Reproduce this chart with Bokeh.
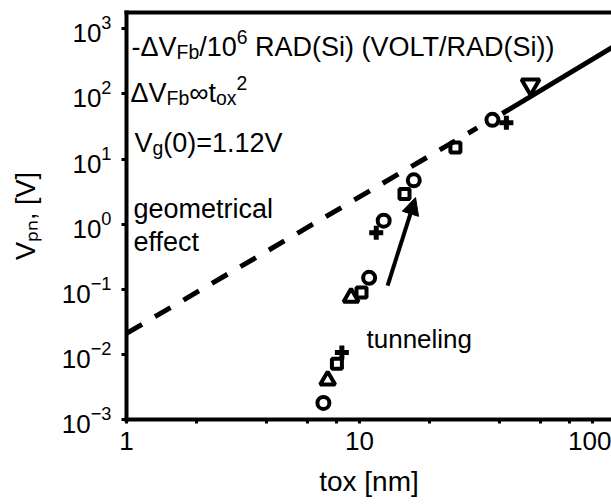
import math
from bokeh.plotting import figure
from bokeh.models import (Range1d, LogAxis, FixedTicker, PrintfTickFormatter,
                          Label, Arrow, NormalHead)
from bokeh.embed import file_html
from bokeh.resources import INLINE

# ---------------- data ----------------
circle_x = [7.0, 11.0, 12.7, 17.1, 37.2]
circle_y = [0.0018, 0.15, 1.13, 4.7, 40.0]
triangle_x = [7.3, 9.2]
triangle_y = [0.0040, 0.075]
square_x = [8.0, 10.2, 15.6, 25.8]
square_y = [0.0072, 0.089, 2.9, 15.0]
cross_x = [8.4, 11.8, 42.7]
cross_y = [0.0107, 0.74, 36.0]
invtri_x = [54.2]
invtri_y = [139.0]

geo_x = [1.0, 32.0]        # dashed "geometrical effect" line
geo_y = [0.021, 30.0]
fit_x = [41.0, 125.0]      # solid t_ox^2 line
fit_y = [50.0, 550.0]
arrow_x = [13.2, 17.4]     # "tunneling" arrow tail -> tip
arrow_y = [0.114, 2.56]

x_ticks = [1, 10, 100]
x_minor_ticks = [2, 4, 6, 8, 20, 40, 60, 80]
y_ticks = [1e-3, 1e-2, 1e-1, 1, 10, 100, 1000]

FONT = "Liberation Sans"

# Arial / Liberation Sans advance widths (1/1000 em)
AW = {' ': 278, '(': 333, ')': 333, '-': 333, '.': 278, '/': 278, ',': 278,
      '=': 584, '[': 278, ']': 278, 'A': 667, 'D': 722, 'F': 611, 'L': 556,
      'O': 778, 'R': 722, 'S': 667, 'T': 611, 'V': 667, 'a': 556, 'b': 556,
      'c': 500, 'e': 556, 'f': 278, 'g': 556, 'i': 222, 'l': 222, 'm': 833,
      'n': 556, 'o': 556, 'p': 556, 'r': 333, 't': 278, 'u': 556, 'x': 500,
      '\u0394': 668, '\u221e': 713}


def tw(s, size):
    return sum(AW.get(c, 556) for c in s) * size / 1000.0


W, H = 611, 504
LEFT, TOP, BOTTOM = 126, 12, 85
frame_w = W - LEFT
x_end = 10 ** (frame_w / 233.0)

p = figure(width=W, height=H, x_axis_type="log", y_axis_type="log",
           x_range=Range1d(1.0, x_end), y_range=Range1d(1e-3, 10 ** 3.25),
           output_backend="svg", toolbar_location=None,
           min_border_left=LEFT, min_border_right=0, min_border_top=TOP,
           min_border_bottom=BOTTOM)
p.outline_line_color = None
p.xgrid.grid_line_color = None
p.ygrid.grid_line_color = None
p.background_fill_color = "white"
p.border_fill_color = "white"

# x axis
xa = p.xaxis[0]
xa.ticker = FixedTicker(ticks=x_ticks, minor_ticks=x_minor_ticks)
xa.formatter = PrintfTickFormatter(format="%d")
xa.axis_line_width = 4
xa.axis_line_cap = "square"
xa.major_tick_out = 4
xa.major_tick_in = 0
xa.minor_tick_out = 4
xa.minor_tick_in = 0
xa.major_tick_line_width = 3
xa.minor_tick_line_width = 3
xa.major_label_text_font = FONT
xa.major_label_text_font_size = "26px"
xa.major_label_text_color = "black"
xa.major_label_standoff = 8
xa.axis_label = "tox [nm]"
xa.axis_label_text_font = FONT
xa.axis_label_text_font_size = "28px"
xa.axis_label_text_font_style = "normal"
xa.axis_label_text_color = "black"
xa.axis_label_standoff = 13

# y axis
ya = p.yaxis[0]
ya.ticker = FixedTicker(ticks=y_ticks)
ya.axis_line_width = 4
ya.axis_line_cap = "square"
ya.major_tick_out = 5
ya.major_tick_in = 0
ya.major_tick_line_width = 3
ya.minor_tick_line_color = None
ya.major_label_text_font = FONT
ya.major_label_text_font_size = "26px"
ya.major_label_text_color = "black"
ya.major_label_standoff = 10
ya.axis_label = "V\u209a\u2099, [V]"
ya.axis_label_text_font = FONT
ya.axis_label_text_font_size = "27px"
ya.axis_label_text_font_style = "normal"
ya.axis_label_text_color = "black"
ya.axis_label_standoff = 18

# top frame line
top = LogAxis(ticker=FixedTicker(ticks=[]), axis_line_width=4,
              axis_line_cap="square", major_tick_out=0, major_tick_in=0,
              minor_tick_out=0, minor_tick_in=0, major_label_standoff=0,
              major_label_text_font_size="0px")
p.add_layout(top, "above")

# lines
p.line(geo_x, geo_y, line_color="black", line_width=5, line_dash="18 15")
p.line(fit_x, fit_y, line_color="black", line_width=5)

# arrow
p.add_layout(Arrow(end=NormalHead(size=17, fill_color="black", line_color="black",
                                  line_width=1),
                   x_start=arrow_x[0], y_start=arrow_y[0],
                   x_end=arrow_x[1], y_end=arrow_y[1],
                   line_color="black", line_width=4))

# markers
mk = dict(line_color="black", fill_color=None)
p.scatter(circle_x, circle_y, marker="circle", size=12, line_width=4, **mk)
p.scatter(triangle_x, triangle_y, marker="triangle", size=15, line_width=4, **mk)
p.scatter(square_x, square_y, marker="square", size=10, line_width=4, **mk)
p.scatter(cross_x, cross_y, marker="cross", size=14, line_width=5, **mk)
p.scatter(invtri_x, invtri_y, marker="inverted_triangle", size=18, line_width=4, **mk)


# rich text made of pieces (canvas coordinates, y down)
def add_rich(pieces, x0, y0, S):
    adv = 0.0
    for txt, kind in pieces:
        size = S if kind == "n" else round(S * 0.72, 1)
        dy = 0.0 if kind == "n" else (S * 0.22 if kind == "sub" else -S * 0.36)
        lead = len(txt) - len(txt.lstrip(" "))
        adv += tw(" " * lead, size)
        txt = txt.lstrip(" ")
        p.add_layout(Label(x=x0 + adv, y=y0 + dy, x_units="canvas", y_units="canvas",
                           text=txt, text_font=FONT, text_font_size=f"{size}px",
                           text_color="black", text_align="left",
                           text_baseline="alphabetic"))
        adv += tw(txt, size)


S = 27
add_rich([("-\u0394V", "n"), ("Fb", "sub"), ("/10", "n"), ("6", "sup"),
          (" RAD(Si) (VOLT/RAD(Si))", "n")], 131, 46, S)
add_rich([("\u0394V", "n"), ("Fb", "sub"), ("\u221e", "n"), ("t", "n"),
          ("ox", "sub"), ("2", "sup")], 130, 92, S)
add_rich([("V", "n"), ("g", "sub"), ("(0)=1.12V", "n")], 134, 142, S)
add_rich([("geometrical", "n")], 133, 208, S)
add_rich([("effect", "n")], 133, 241, S)
add_rich([("tunneling", "n")], 366, 338, 26)

open("out.html", "w").write(file_html(p, INLINE))
